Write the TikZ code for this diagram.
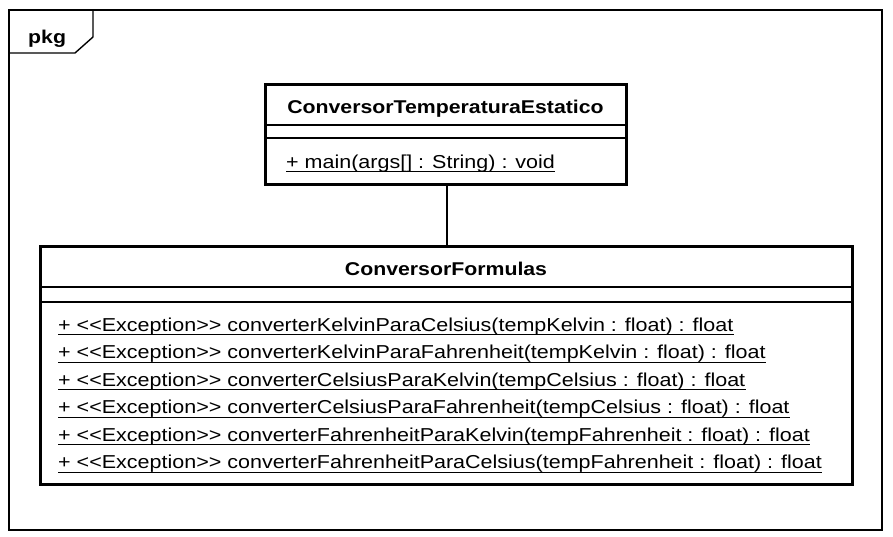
\documentclass[tikz,border=0pt]{standalone}
\usepackage{fontspec}
\setmainfont{Liberation Sans}[Ligatures=TeXOff,FakeStretch=1.15]
\begin{document}
\begin{tikzpicture}[x=1pt,y=-1pt,
  frame/.style={draw=black,line width=1.4pt},
  classbox/.style={draw=black,line width=3pt},
  sep/.style={draw=black,line width=1.2pt},
  title/.style={font=\fontsize{18.5}{20}\selectfont\bfseries,inner sep=0pt},
  member/.style={font=\fontsize{18.7}{20}\selectfont,inner sep=0pt,anchor=base west},
  uline/.style={draw=black,line width=1pt}]
\useasboundingbox (0,0) rectangle (893,536);
\fill[white] (0,0) rectangle (893,536);
% package frame with its name tab
\draw[frame] (9,10) rectangle (882,530);
\draw[frame] (9,10) -- (93,10) -- (93,37) -- (75,53) -- (9,53);
\node[title,anchor=base west] (pkg) at (28,43) {pkg};
% class ConversorTemperaturaEstatico
\draw[classbox] (265,84) rectangle (626,184);
\draw[sep] (265,125) -- (626,125);
\draw[sep] (265,138) -- (626,138);
\node[title,anchor=base] (t1) at (445.5,113) {ConversorTemperaturaEstatico};
\node[member] (main) at (286,168) {+ main(args[] : String) : void};
\draw[uline] ([yshift=-3.5pt]main.base west) -- ([yshift=-3.5pt]main.base east);
% class ConversorFormulas
\draw[classbox] (40,246) rectangle (852,484);
\draw[sep] (40,287) -- (852,287);
\draw[sep] (40,302) -- (852,302);
\node[title,anchor=base] (t2) at (446,275) {ConversorFormulas};
\foreach \i/\txt in {
  1/{+ <<Exception>> converterKelvinParaCelsius(tempKelvin : float) : float},
  2/{+ <<Exception>> converterKelvinParaFahrenheit(tempKelvin : float) : float},
  3/{+ <<Exception>> converterCelsiusParaKelvin(tempCelsius : float) : float},
  4/{+ <<Exception>> converterCelsiusParaFahrenheit(tempCelsius : float) : float},
  5/{+ <<Exception>> converterFahrenheitParaKelvin(tempFahrenheit : float) : float},
  6/{+ <<Exception>> converterFahrenheitParaCelsius(tempFahrenheit : float) : float}}{
  \node[member] (m\i) at (58,{303.5+27.5*\i}) {\txt};
  \draw[uline] ([yshift=-3.5pt]m\i.base west) -- ([yshift=-3.5pt]m\i.base east);
}
% association between the two classes
\coordinate (a1) at (447,185.5);
\coordinate (a2) at (447,244.5);
\draw[line width=1.2pt] (a1) -- (a2);
\end{tikzpicture}
\end{document}
